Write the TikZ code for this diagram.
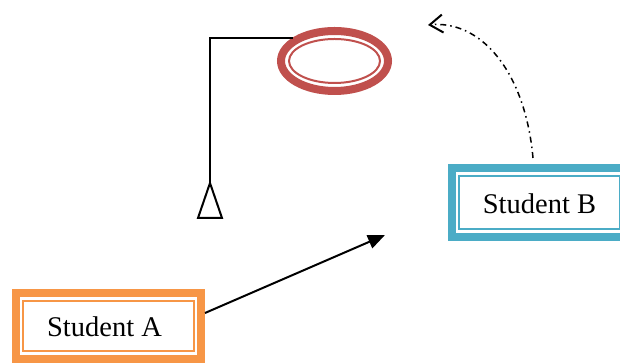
\documentclass[tikz,border=0pt]{standalone}
\usepackage{fontspec}
\setmainfont{Liberation Serif}
\usetikzlibrary{arrows.meta,shapes.geometric,calc}
\definecolor{aorange}{HTML}{F79646}
\definecolor{ablue}{HTML}{4BACC6}
\definecolor{ared}{HTML}{C0504D}
\begin{document}
\begin{tikzpicture}[x=1pt,y=1pt,
  framebox/.style={draw=#1, line width=8pt, rectangle, inner sep=0pt,
    font=\fontsize{28.5}{30}\selectfont},
  innerline/.style={draw=#1, line width=2pt},
  conn/.style={line width=2pt, black}]
\useasboundingbox (0,0) rectangle (620,363);
\clip (0,0) rectangle (620,363);
% Student A
\node[framebox=aorange, minimum width=185pt, minimum height=66pt] (A) at (108.5,37) {};
\node[font=\fontsize{28.5}{30}\selectfont] (At) at (104.5,36) {Student A};
\draw[innerline=aorange] ([shift={(11,-12)}]A.north west) rectangle ([shift={(-11,12)}]A.south east);
% Student B
\node[framebox=ablue, minimum width=175pt, minimum height=69pt] (B) at (539.5,160.5) {};
\node[font=\fontsize{28.5}{30}\selectfont] (Bt) at (539.5,159.5) {Student B};
\draw[innerline=ablue] ([shift={(11,-12)}]B.north west) rectangle ([shift={(-11,12)}]B.south east);
% Ellipse
\node[ellipse, draw=ared, line width=8pt, minimum width=107pt, minimum height=60pt, inner sep=0pt] (E) at (334.5,302) {};
\draw[innerline=ared] (E.center) ellipse [x radius=45.5, y radius=22];
% Triangle connector
\coordinate (T) at (210,180);
\draw[conn] (E.151) -| (T);
\draw[conn, line join=miter] (T) -- ++(-12,-35) -- ++(24,0) -- cycle;
% Arrow from Student A
\coordinate (P) at (385,128);
\draw[conn, -{Triangle[length=17pt,width=14pt]}] ([yshift=13pt]A.east) -- (P);
% Dash-dot curve from Student B
\coordinate (Q) at (428,338);
\draw[line width=1.5pt, dash pattern=on 6pt off 4pt on 1.5pt off 4pt,
  -{Straight Barb[length=13pt,width=18pt,line width=2pt]}]
  ([shift={(-6.5,6)}]B.north) .. controls (525,293) and (480,343) .. (Q);
\end{tikzpicture}
\end{document}
